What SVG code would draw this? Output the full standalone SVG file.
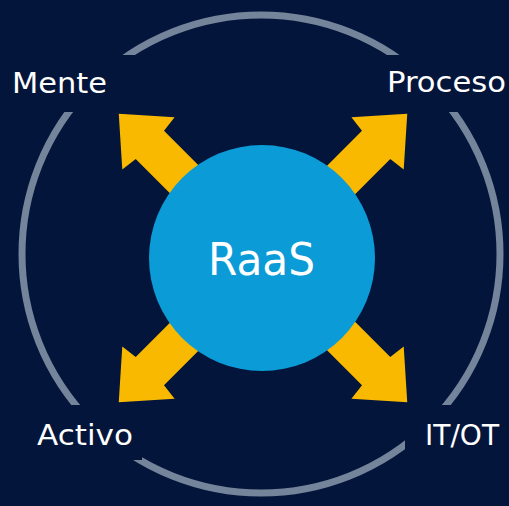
<svg xmlns="http://www.w3.org/2000/svg" width="509" height="506" viewBox="0 0 509 506">
  <defs>
    <style>
      .bg { fill: #03153a; }
      .ring { fill: none; stroke: #74849a; stroke-width: 7; }
      .arrow { fill: #f9b900; }
      .hub { fill: #0b9bd7; }
      .lbl { font-family: "DejaVu Sans", "Liberation Sans", sans-serif; fill: #ffffff; }
      .lblbox { fill: #03153a; }
    </style>
    <polygon id="arrowShape" points="0,-204 37,-162 20,-160 20,-100 -20,-100 -20,-160 -37,-162"/>
  </defs>
  <rect class="bg" x="0" y="0" width="509" height="506"/>
  <circle class="ring" cx="261" cy="254" r="239"/>
  <g id="connectors">
    <use href="#arrowShape" class="arrow" transform="translate(263,258) rotate(-45)"/>
    <use href="#arrowShape" class="arrow" transform="translate(263,258) rotate(45)"/>
    <use href="#arrowShape" class="arrow" transform="translate(263,258) rotate(135)"/>
    <use href="#arrowShape" class="arrow" transform="translate(263,258) rotate(-135)"/>
  </g>
  <g id="node-raas">
    <circle class="hub" cx="262" cy="258" r="113"/>
    <text class="lbl" x="208" y="275" font-size="45" textLength="107" lengthAdjust="spacingAndGlyphs">RaaS</text>
  </g>
  <g id="node-mente">
    <rect class="lblbox" x="0" y="55" width="135" height="57"/>
    <text class="lbl" x="12" y="93" font-size="29" textLength="95" lengthAdjust="spacingAndGlyphs">Mente</text>
  </g>
  <g id="node-proceso">
    <rect class="lblbox" x="380" y="55" width="129" height="57"/>
    <text class="lbl" x="387" y="92" font-size="29" textLength="119" lengthAdjust="spacingAndGlyphs">Proceso</text>
  </g>
  <g id="node-activo">
    <rect class="lblbox" x="25" y="405" width="117" height="55"/>
    <text class="lbl" x="37" y="445" font-size="29" textLength="96" lengthAdjust="spacingAndGlyphs">Activo</text>
  </g>
  <g id="node-itot">
    <rect class="lblbox" x="405" y="405" width="104" height="50"/>
    <text class="lbl" x="425" y="445" font-size="29" textLength="74" lengthAdjust="spacingAndGlyphs">IT/OT</text>
  </g>
</svg>
